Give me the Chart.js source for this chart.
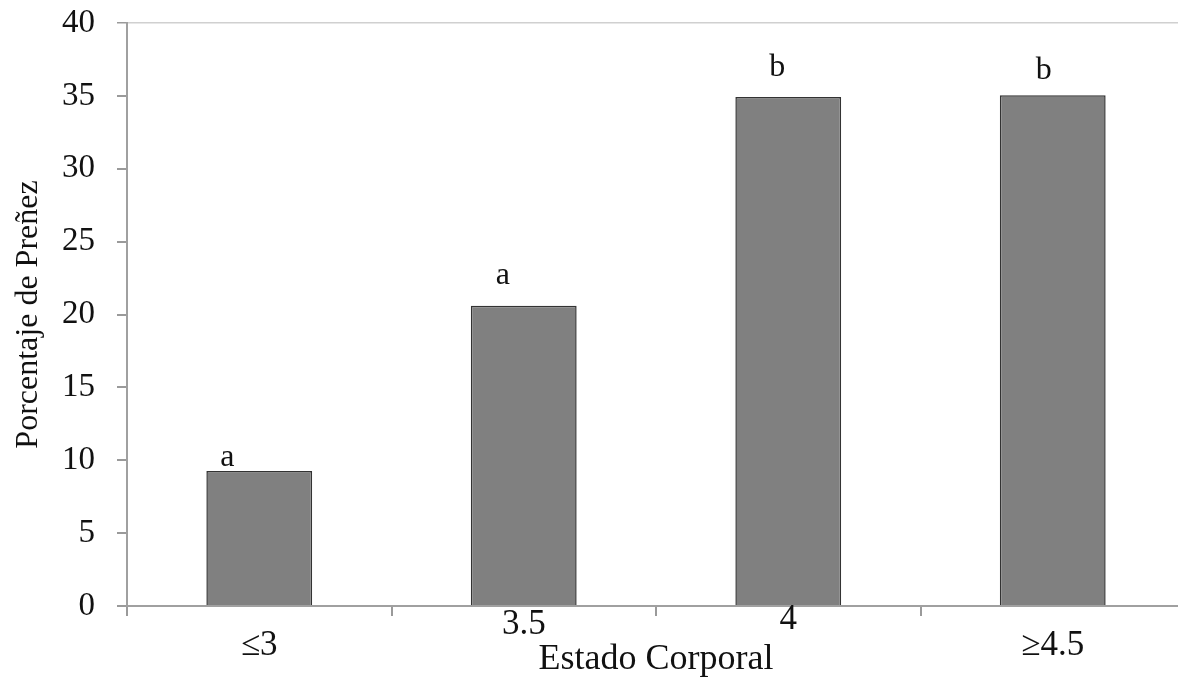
<!DOCTYPE html>
<html lang="es">
<head>
    <meta charset="UTF-8">
    <script src="https://cdn.jsdelivr.net/npm/chart.js"></script>
    <title>Porcentaje de Preñez por Estado Corporal</title>
    <style>
        html, body { margin: 0; padding: 0; background: #fff; overflow: hidden; }
        canvas { display: block; }
    </style>
</head>
<body>
    <canvas id="prenezChart" width="1190" height="679"></canvas>

    <script>
        // datos
        const categorias = ['≤3', '3.5', '4', '≥4.5'];
        const prenez = [9.26, 20.6, 34.93, 35.05];
        const letras = ['a', 'a', 'b', 'b'];
        const yTicks = [0, 5, 10, 15, 20, 25, 30, 35, 40];

        // desplazamientos de texto (px), solo para la maqueta
        const letraDx = [-32, -21, -11, -9];
        const letraDy = [-13, -30, -29, -25];
        const etiquetaDy = [40, 19, 14, 40];

        const serif = '"Liberation Serif", "Times New Roman", serif';

        // dibuja letras de significancia y etiquetas del eje x
        const textosPlugin = {
            id: 'textos',
            afterDraw(chart) {
                const ctx = chart.ctx;
                const x = chart.scales.x;
                const y = chart.scales.y;
                ctx.save();
                ctx.fillStyle = '#111';
                ctx.textAlign = 'center';
                ctx.textBaseline = 'middle';
                ctx.font = '32px ' + serif;
                prenez.forEach((v, i) => {
                    ctx.fillText(letras[i], x.getPixelForValue(i) + letraDx[i], y.getPixelForValue(v) + letraDy[i]);
                });
                ctx.font = '35px ' + serif;
                categorias.forEach((c, i) => {
                    ctx.fillText(c, x.getPixelForValue(i), x.top + etiquetaDy[i]);
                });
                ctx.restore();
            }
        };

        const ctx = document.getElementById('prenezChart').getContext('2d');
        new Chart(ctx, {
            type: 'bar',
            data: {
                labels: categorias,
                datasets: [{
                    data: prenez,
                    backgroundColor: '#808080',
                    borderColor: '#333333',
                    borderWidth: 1.5,
                    barPercentage: 0.4,
                    categoryPercentage: 1.0
                }]
            },
            options: {
                responsive: false,
                animation: false,
                layout: { padding: { top: 23, right: 5, left: 0, bottom: 0 } },
                plugins: {
                    legend: { display: false },
                    tooltip: { enabled: false }
                },
                scales: {
                    x: {
                        offset: true,
                        afterFit(scale) {
                            scale.height = 73;
                            scale.paddingLeft = 0;
                            scale.paddingRight = 0;
                        },
                        grid: {
                            offset: true,
                            drawOnChartArea: false,
                            tickLength: 10,
                            tickColor: '#9a9a9a',
                            lineWidth: 2
                        },
                        border: { color: '#a0a0a0', width: 2 },
                        ticks: { display: false },
                        title: {
                            display: true,
                            text: 'Estado Corporal',
                            color: '#111',
                            font: { family: serif, size: 36, lineHeight: 1 },
                            padding: { top: 0, bottom: 1 }
                        }
                    },
                    y: {
                        min: 0,
                        max: 40,
                        afterFit(scale) {
                            scale.width = 127;
                            scale.paddingTop = 0;
                            scale.paddingBottom = 0;
                        },
                        afterBuildTicks(scale) { scale.ticks = yTicks.map(v => ({ value: v })); },
                        grid: {
                            color: c => (c.tick && c.tick.value === 40) ? '#d0d0d0' : 'rgba(0,0,0,0)',
                            tickColor: '#9a9a9a',
                            tickLength: 10,
                            lineWidth: c => (c.tick && c.tick.value === 40) ? 1.5 : 2
                        },
                        border: { color: '#a0a0a0', width: 2 },
                        ticks: {
                            color: '#111',
                            padding: 22,
                            font: { family: serif, size: 33 }
                        },
                        title: {
                            display: true,
                            text: 'Porcentaje de Preñez',
                            color: '#111',
                            font: { family: serif, size: 32 },
                            padding: { top: 9, bottom: 0 }
                        }
                    }
                }
            },
            plugins: [textosPlugin]
        });
    </script>
</body>
</html>
